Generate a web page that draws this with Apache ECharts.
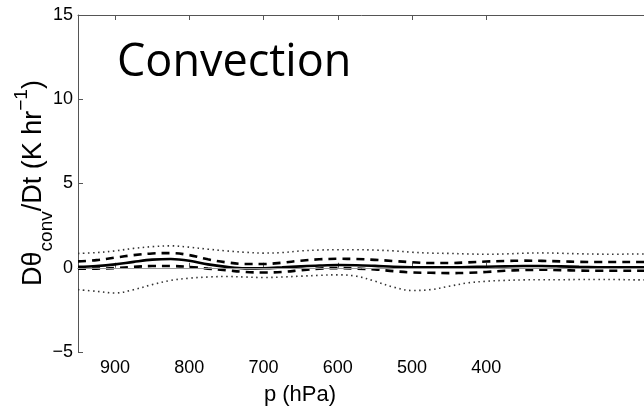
<!DOCTYPE html>
<html>
<head>
<meta charset="utf-8">
<script src="https://cdn.jsdelivr.net/npm/echarts@6/dist/echarts.min.js"></script>
<style>
html,body{margin:0;padding:0;background:#fff;}
#chart{width:644px;height:411px;}
</style>
</head>
<body>
<div id="chart"></div>
<script>
const pressure = [950, 925, 900, 875, 850, 825, 800, 775, 750, 725, 700, 675, 650, 625, 600, 575, 550, 525, 500, 475, 450, 425, 400, 375, 350, 325, 300, 275, 250, 225, 200, 175];
const meanRate = [0.05, 0.1, 0.2, 0.35, 0.48, 0.52, 0.42, 0.2, 0.05, -0.04, -0.03, 0.02, 0.08, 0.13, 0.16, 0.15, 0.11, 0.06, 0.03, 0.02, 0.02, 0.04, 0.06, 0.08, 0.1, 0.1, 0.08, 0.05, 0.03, 0.02, 0.02, 0.02];
const upperDashed = [0.38, 0.45, 0.6, 0.75, 0.85, 0.87, 0.75, 0.5, 0.32, 0.22, 0.22, 0.3, 0.42, 0.5, 0.53, 0.52, 0.47, 0.4, 0.33, 0.28, 0.28, 0.32, 0.37, 0.4, 0.42, 0.41, 0.38, 0.35, 0.34, 0.34, 0.34, 0.34];
const lowerDashed = [-0.05, -0.05, -0.02, 0.05, 0.1, 0.1, 0.05, -0.05, -0.15, -0.25, -0.28, -0.25, -0.15, -0.05, -0.02, -0.05, -0.1, -0.2, -0.28, -0.3, -0.32, -0.3, -0.25, -0.18, -0.14, -0.12, -0.14, -0.17, -0.18, -0.18, -0.18, -0.18];
const upperDotted = [0.85, 0.9, 1.0, 1.15, 1.25, 1.3, 1.22, 1.1, 1.0, 0.92, 0.87, 0.9, 1.0, 1.05, 1.07, 1.07, 1.05, 1.0, 0.92, 0.87, 0.85, 0.82, 0.8, 0.82, 0.86, 0.88, 0.86, 0.83, 0.81, 0.8, 0.82, 0.82];
const lowerDotted = [-1.3, -1.4, -1.5, -1.3, -1.0, -0.75, -0.62, -0.55, -0.52, -0.55, -0.58, -0.55, -0.5, -0.45, -0.42, -0.5, -0.8, -1.15, -1.35, -1.3, -1.1, -0.9, -0.8, -0.75, -0.72, -0.71, -0.71, -0.7, -0.7, -0.7, -0.72, -0.72];
const xTicks = [900, 800, 700, 600, 500, 400];
const yTicks = [-5, 0, 5, 10, 15];
const titleText = 'Convection';
const xName = 'p (hPa)';

const pair = arr => pressure.map((p, i) => [p, arr[i]]);
const chart = echarts.init(document.getElementById('chart'), null, {renderer: 'canvas'});
const axisCol = '#555';
const font = 'Liberation Sans, Arial, Helvetica, sans-serif';

function lineSeries(name, arr, width, type, color) {
  return {
    name, type: 'line', data: pair(arr), showSymbol: false, smooth: 0.35,
    lineStyle: {color, width, type}, z: 3, silent: true, animation: false
  };
}

const series = [
  lineSeries('upperDotted', upperDotted, 1.6, [1.5, 3.5], '#333'),
  lineSeries('lowerDotted', lowerDotted, 1.6, [1.5, 3.5], '#333'),
  lineSeries('upperDashed', upperDashed, 2.6, [8, 6], '#000'),
  lineSeries('lowerDashed', lowerDashed, 2.6, [8, 6], '#000'),
  Object.assign(lineSeries('mean', meanRate, 2.6, 'solid', '#000'), {
    markLine: {silent: true, symbol: 'none', label: {show: false},
      lineStyle: {color: '#999', width: 1, type: 'solid'}, data: [{yAxis: 0}], animation: false}
  })
];

chart.setOption({
  animation: false,
  grid: {left: 78, top: 15, right: -65, bottom: 59, outerBoundsMode: 'none', containLabel: false},
  xAxis: [{
    type: 'value', inverse: true, min: 100, max: 950, interval: 100, position: 'bottom',
    axisLine: {show: true, lineStyle: {color: axisCol, width: 1}},
    axisTick: {show: true, inside: true, length: 5, lineStyle: {color: axisCol}, customValues: xTicks},
    axisLabel: {show: true, color: '#000', fontSize: 18, fontFamily: font, margin: 7, customValues: xTicks,
      formatter: v => xTicks.includes(v) ? String(v) : ''},
    splitLine: {show: false}
  }, {
    type: 'value', inverse: true, min: 100, max: 950, interval: 100, position: 'top',
    axisLine: {show: true, onZero: false, lineStyle: {color: axisCol, width: 1}},
    axisTick: {show: true, inside: true, length: 5, lineStyle: {color: axisCol}, customValues: xTicks},
    axisLabel: {show: false}, splitLine: {show: false}
  }],
  yAxis: {
    type: 'value', min: -5, max: 15, interval: 5,
    axisLine: {show: true, onZero: false, lineStyle: {color: axisCol, width: 1}},
    axisTick: {show: true, inside: true, length: 5, lineStyle: {color: axisCol}},
    axisLabel: {color: '#000', fontSize: 18, fontFamily: font, margin: 5,
      formatter: v => yTicks.includes(v) ? String(v).replace('-', '\u2212') : ''},
    splitLine: {show: false}
  },
  series,
  graphic: [
    {type: 'text', x: 117, y: 63, z: 10, silent: true,
      style: {text: titleText, font: '400 45px "Open Sans", sans-serif', fill: '#000', align: 'left', verticalAlign: 'middle'}},
    {type: 'text', x: 300, y: 395, z: 10, silent: true,
      style: {text: xName, font: '22px ' + font, fill: '#000', align: 'center', verticalAlign: 'middle'}},
    {type: 'text', x: 34, y: 183, rotation: Math.PI / 2, z: 10, silent: true,
      style: {
        text: 'D\u03b8{sub|conv}/Dt (K hr{sup|\u22121})',
        align: 'center', verticalAlign: 'middle', fill: '#000',
        font: '27px ' + font,
        lineHeight: 44,
        rich: {
          sub: {fontSize: 19, fontFamily: font, fill: '#000', verticalAlign: 'bottom', lineHeight: 19},
          sup: {fontSize: 19, fontFamily: font, fill: '#000', verticalAlign: 'top', lineHeight: 19}
        }
      }}
  ]
});
</script>
</body>
</html>
